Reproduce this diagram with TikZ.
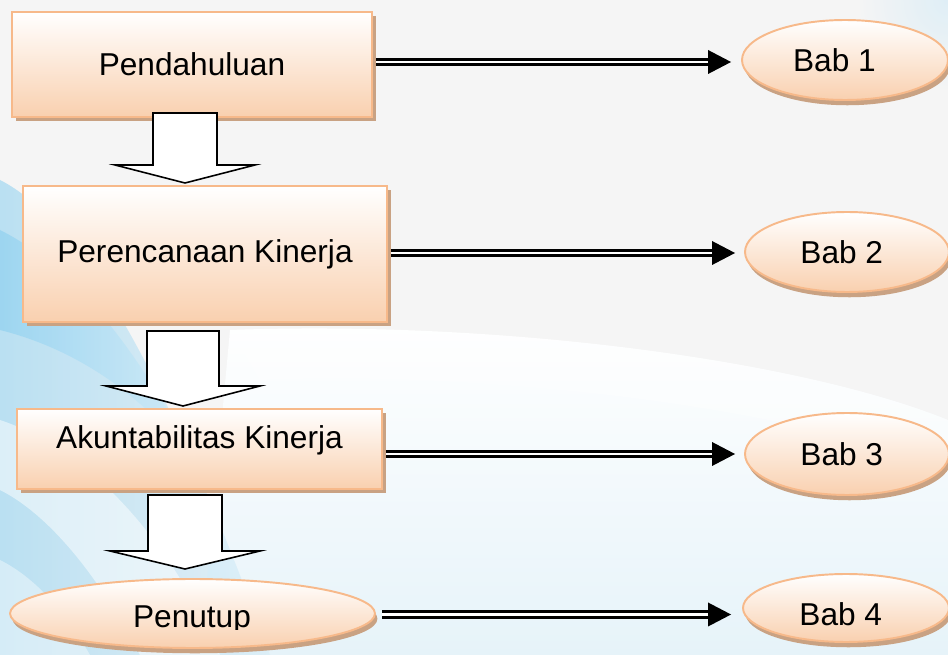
\documentclass[tikz,border=0pt]{standalone}
\usepackage{fontspec}
\setmainfont{Liberation Sans}
\usetikzlibrary{shapes.geometric,shadows,calc}
\definecolor{bgc}{HTML}{F5F5F5}
\definecolor{peachb}{HTML}{F7B98A}
\definecolor{peachf}{HTML}{F9D0AF}
\definecolor{shadc}{HTML}{C9A283}
\definecolor{blue1}{HTML}{8ACFF0}
\definecolor{blue2}{HTML}{D6ECF7}
\definecolor{blue3}{HTML}{E6F3F9}
\tikzset{
  base/.style={draw=peachb, line width=1.1pt, top color=white, bottom color=peachf,
    inner sep=0pt, font=\fontsize{18}{21}\selectfont},
  boxstyle/.style={base, rectangle,
    drop shadow={shadow xshift=2.2pt, shadow yshift=-2.4pt, fill=shadc, opacity=1}},
  ellstyle/.style={base, ellipse,
    drop shadow={shadow xshift=1.4pt, shadow yshift=-3pt, fill=shadc, opacity=1}},
  lbl/.style={font=\fontsize{18}{21}\selectfont},
  dbl/.style={draw=black, double=white, double distance=1.5pt, line width=1.6pt},
  hollow/.style={draw=black, fill=white, line width=0.9pt, line join=miter},
  tipfill/.style={fill=black}
}
\begin{document}
\begin{tikzpicture}[x=0.02cm, y=-0.02cm]
\useasboundingbox (0,0) rectangle (948,655);
% background
\fill[bgc] (0,0) rectangle (948,655);
\shade[top color=white, bottom color=blue3] (230,330) .. controls (500,320) and (800,360) .. (948,420) -- (948,655) -- (200,655) -- cycle;
\fill[white, opacity=0.35] (230,330) .. controls (500,320) and (800,360) .. (948,420) -- (948,470) .. controls (800,410) and (500,370) .. (260,380) -- cycle;
\shade[left color=blue1, right color=blue2, opacity=0.55] (0,180) .. controls (80,220) and (170,380) .. (270,655) -- (0,655) -- cycle;
\shade[left color=blue1, right color=blue1!40, opacity=0.6] (0,230) .. controls (60,260) and (130,330) .. (200,470) .. controls (150,400) and (80,350) .. (0,330) -- cycle;
\fill[white, opacity=0.5] (0,420) .. controls (90,450) and (170,540) .. (220,655) -- (140,655) .. controls (90,560) and (40,510) .. (0,490) -- cycle;
\fill[white, opacity=0.4] (0,560) .. controls (40,580) and (70,620) .. (90,655) -- (0,655) -- cycle;
\shade[inner color=blue2, outer color=bgc, opacity=0.7] (948,0) circle (90);

% main nodes
\node[boxstyle, minimum width=7.2cm, minimum height=2.1cm] (p1) at (192,64.5) {Pendahuluan};
\node[boxstyle, minimum width=7.28cm, minimum height=2.72cm] (p2) at (205,254) {Perencanaan Kinerja};
\node[boxstyle, minimum width=7.3cm, minimum height=1.6cm, label={[lbl, yshift=5.1pt]center:Akuntabilitas Kinerja}] (p3) at (199.5,449) {};
\node[ellstyle, minimum width=7.3cm, minimum height=1.38cm] (p4) at (192.5,613.5) {};
\begin{scope}
\clip (0,0) rectangle (948,630);
\node[lbl, anchor=base] (p4t) at (192,628) {Penutup};
\end{scope}

\node[ellstyle, minimum width=4.12cm, minimum height=1.6cm, label={[lbl, xshift=-6pt]center:Bab 1}] (b1) at (845,60) {};
\node[ellstyle, minimum width=4.08cm, minimum height=1.6cm, label={[lbl, xshift=-3pt]center:Bab 2}] (b2) at (847,252) {};
\node[ellstyle, minimum width=4.08cm, minimum height=1.64cm, label={[lbl, xshift=-3pt]center:Bab 3}] (b3) at (847,454) {};
\node[ellstyle, minimum width=4.12cm, minimum height=1.36cm, label={[lbl, xshift=-3pt, yshift=-3.5pt]center:Bab 4}] (b4) at (846,608) {};

% hollow block arrows
\draw[hollow] (153,113) -- (153,165) -- (115,165) -- (185,183) -- (255,165) -- (217,165) -- (217,113) -- cycle;
\draw[hollow] (147,331) -- (147,386) -- (106,386) -- (183,406) -- (260,386) -- (219,386) -- (219,331) -- cycle;
\draw[hollow] (148,495) -- (148,551) -- (110,551) -- (185,569) -- (260,551) -- (222,551) -- (222,495) -- cycle;

% double arrows
\coordinate (e1) at ($(p1.east)+(0,-2.5)$);
\draw[dbl, shorten <=1.8pt, shorten >=18pt] (e1) -- (e1 -| b1.west);
\fill[tipfill] ($(e1 -| b1.west)+(-10,0)$) -- ++(-23,-12) -- ++(0,24) -- cycle;

\coordinate (e2) at ($(p2.east)+(0,-1)$);
\draw[dbl, shorten <=1.8pt, shorten >=18pt] (e2) -- (e2 -| b2.west);
\fill[tipfill] ($(e2 -| b2.west)+(-9,0)$) -- ++(-23,-12) -- ++(0,24) -- cycle;

\coordinate (e3) at (b3.west -| p3.east);
\draw[dbl, shorten <=1.8pt, shorten >=18pt] (e3) -- (b3.west);
\fill[tipfill] ($(b3.west)+(-9,0)$) -- ++(-23,-12) -- ++(0,24) -- cycle;

\coordinate (e4) at ($(p4.east)+(0,1)$);
\draw[dbl, shorten <=3.5pt, shorten >=18pt] (e4) -- (e4 -| b4.west);
\fill[tipfill] ($(e4 -| b4.west)+(-11,0)$) -- ++(-23,-12) -- ++(0,24) -- cycle;
\end{tikzpicture}
\end{document}
